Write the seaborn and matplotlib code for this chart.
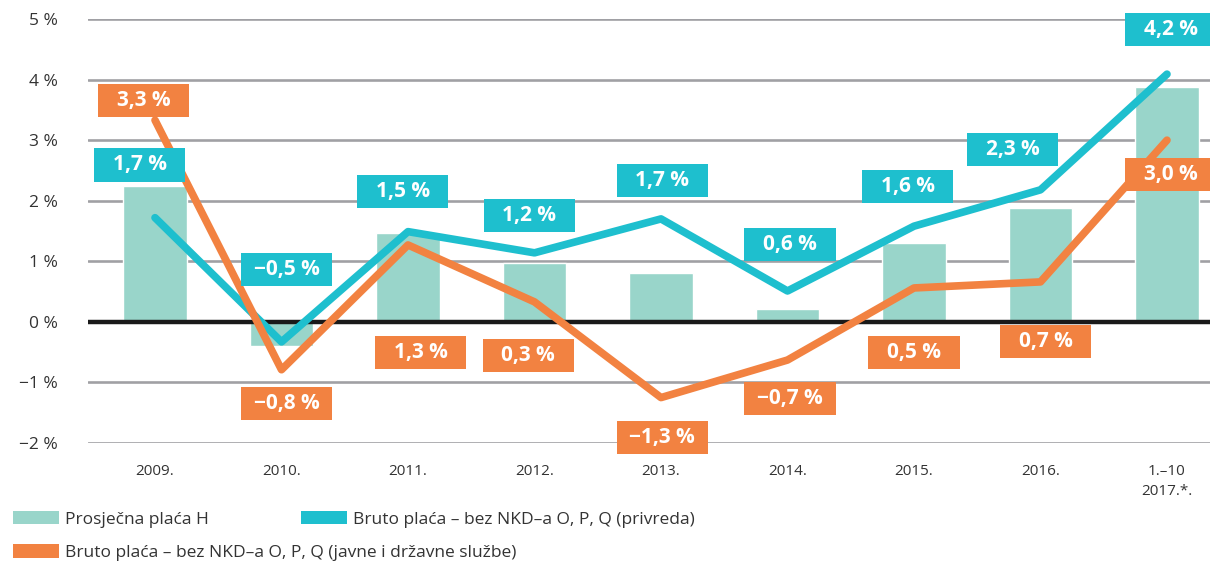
import matplotlib
matplotlib.use('Agg')
import matplotlib.pyplot as plt
import seaborn as sns
from matplotlib.patches import Rectangle, Patch

# Podaci
years = ['2009.', '2010.', '2011.', '2012.', '2013.', '2014.', '2015.', '2016.', '1.\u201310\n2017.*.']
prosjecna = [2.24, -0.40, 1.47, 0.97, 0.81, 0.21, 1.30, 1.88, 3.88]
privreda = [1.72, -0.33, 1.49, 1.14, 1.70, 0.51, 1.58, 2.18, 4.09]
javne = [3.33, -0.79, 1.27, 0.33, -1.25, -0.63, 0.56, 0.66, 3.00]
privreda_labels = ['1,7 %', '\u22120,5 %', '1,5 %', '1,2 %', '1,7 %', '0,6 %', '1,6 %', '2,3 %', '4,2 %']
javne_labels = ['3,3 %', '\u22120,8 %', '1,3 %', '0,3 %', '\u22121,3 %', '\u22120,7 %', '0,5 %', '0,7 %', '3,0 %']
yticks = [-2, -1, 0, 1, 2, 3, 4, 5]
ytick_labels = ['\u22122 %', '\u22121 %', '0 %', '1 %', '2 %', '3 %', '4 %', '5 %']

# Položaji oznaka (središta okvira)
privreda_box = [(-0.12, 2.59), (1.04, 0.86), (1.96, 2.16), (2.96, 1.75), (4.01, 2.34),
                (5.02, 1.27), (5.95, 2.24), (6.78, 2.85), (8.03, 4.82)]
javne_box = [(-0.09, 3.66), (1.04, -1.34), (2.10, -0.50), (2.95, -0.56), (4.01, -1.91),
             (5.02, -1.26), (6.00, -0.50), (7.04, -0.32), (8.03, 2.43)]

c_bar = '#99d5ca'
c_teal = '#1ebfce'
c_orange = '#f28241'
c_grid = '#a0a0a4'
c_text = '#333333'

sns.set_style('white')
plt.rcParams['font.family'] = ['Open Sans', 'DejaVu Sans']

fig = plt.figure(figsize=(12.1, 5.61), dpi=100)
ax = fig.add_axes([0.0727, 0.2103, 0.9273, 0.7558])

for y in yticks:
    if y != 0:
        ax.axhline(y, color=c_grid, lw=1.9, zorder=0)

sns.barplot(x=list(range(len(years))), y=prosjecna, color=c_bar, width=0.5,
            saturation=1, ax=ax, zorder=1, native_scale=True)
ax.axhline(0, color='#1a1a1a', lw=3.2, zorder=2)

x = list(range(len(years)))
sns.lineplot(x=x, y=privreda, color=c_teal, lw=5.5, ax=ax, zorder=3,
             solid_capstyle='round', solid_joinstyle='round')
sns.lineplot(x=x, y=javne, color=c_orange, lw=5.5, ax=ax, zorder=3,
             solid_capstyle='round', solid_joinstyle='round')

bw, bh = 0.72, 0.545
for boxes, labels, col in [(privreda_box, privreda_labels, c_teal),
                           (javne_box, javne_labels, c_orange)]:
    for (cx, cy), lab in zip(boxes, labels):
        ax.add_patch(Rectangle((cx - bw / 2, cy - bh / 2), bw, bh, facecolor=col,
                               edgecolor='none', zorder=5, clip_on=False))
        ax.text(cx, cy, lab, color='white', fontsize=15, fontweight='bold',
                ha='center', va='center', zorder=6, clip_on=False)

ax.set_xlim(-0.53, 8.34)
ax.set_ylim(-2, 5)
ax.set_xticks(x)
ax.set_xticklabels(years, fontsize=11, color=c_text, linespacing=1.45, va='top')
ax.set_yticks(yticks)
ax.set_yticklabels(ytick_labels, fontsize=12.5, color=c_text)
ax.tick_params(axis='x', length=0, pad=15)
ax.tick_params(axis='y', length=0, pad=22)
sns.despine(ax=ax, left=True, bottom=True)

# Legenda
h1 = Patch(facecolor=c_bar, edgecolor='none')
h2 = Patch(facecolor=c_teal, edgecolor='none')
h3 = Patch(facecolor=c_orange, edgecolor='none')
leg_kw = dict(frameon=False, fontsize=12.5, handlelength=2.65, handleheight=0.8,
              handletextpad=0.3, labelspacing=0.95, borderaxespad=0, borderpad=0,
              labelcolor=c_text)
fig.legend([h1, h3], ['Prosječna plaća H', 'Bruto plaća \u2013 bez NKD\u2013a O, P, Q (javne i državne službe)'],
           loc='upper left', bbox_to_anchor=(0.011, 0.089), **leg_kw)
fig.legend([h2], ['Bruto plaća \u2013 bez NKD\u2013a O, P, Q (privreda)'],
           loc='upper left', bbox_to_anchor=(0.249, 0.089), **leg_kw)

fig.savefig('out.png', dpi=100)
